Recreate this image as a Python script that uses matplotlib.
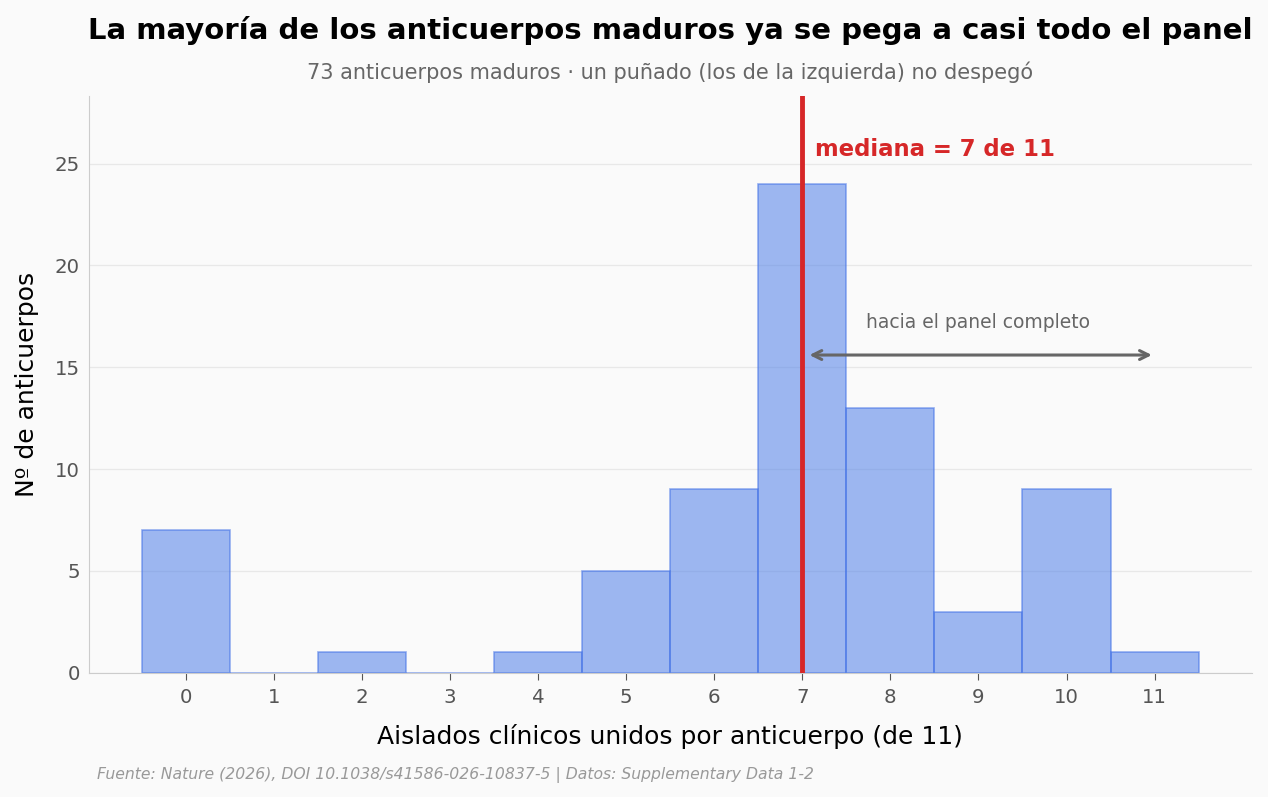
import matplotlib.pyplot as plt
import numpy as np

# isolates bound per antibody (0..11) and how many antibodies
aislados = np.arange(0, 12)
n_anticuerpos = [7, 0, 1, 0, 1, 5, 9, 24, 13, 3, 9, 1]
mediana = 7

bg = "#fafafa"
fig, ax = plt.subplots(figsize=(12.68, 7.97), dpi=100)
fig.patch.set_facecolor(bg)
ax.set_facecolor(bg)

ax.bar(aislados, n_anticuerpos, width=1.0, color="#4f7fe8", alpha=0.55,
       edgecolor="#3f6fe6", linewidth=1.2, zorder=2)

ax.axvline(mediana, color="#d62728", linewidth=3.5, zorder=3)
ax.text(mediana + 0.15, 25.7, f"mediana = {mediana} de 11", color="#d62728",
        fontsize=16.4, fontweight="bold", va="center", ha="left")

ax.annotate("", xy=(11, 15.6), xytext=(mediana + 0.05, 15.6),
            arrowprops=dict(arrowstyle="<->", color="#666666", lw=2.2,
                            mutation_scale=16))
ax.text(9.0, 17.2, "hacia el panel completo", color="#666666", fontsize=13.5,
        ha="center", va="center")

ax.set_xlim(-1.1, 12.1)
ax.set_ylim(0, 28.3)
ax.set_xticks(aislados)
ax.set_yticks([0, 5, 10, 15, 20, 25])
ax.tick_params(axis="both", labelsize=14.2, colors="#555555")
ax.tick_params(axis="y", length=0, pad=6.5)
ax.tick_params(axis="x", color="#555555", length=5, pad=6)
ax.grid(axis="y", color="#e8e8e8", linewidth=0.9, zorder=0)
ax.set_axisbelow(True)
for s in ["top", "right"]:
    ax.spines[s].set_visible(False)
for s in ["left", "bottom"]:
    ax.spines[s].set_color("#cccccc")

ax.set_xlabel("Aislados clínicos unidos por anticuerpo (de 11)", fontsize=18, labelpad=12)
ax.set_ylabel("Nº de anticuerpos", fontsize=18, labelpad=11)

ax.set_title("La mayoría de los anticuerpos maduros ya se pega a casi todo el panel",
             fontsize=21, fontweight="bold", pad=41)
ax.text(0.5, 1.042, "73 anticuerpos maduros · un puñado (los de la izquierda) no despegó",
        transform=ax.transAxes, ha="center", va="center", fontsize=15, color="#666666")

fig.text(0.0765, 0.028, "Fuente: Nature (2026), DOI 10.1038/s41586-026-10837-5 | Datos: Supplementary Data 1-2",
         fontsize=11.25, style="italic", color="#999999", ha="left", va="center")

fig.subplots_adjust(left=0.070, right=0.987, top=0.879, bottom=0.156)
fig.savefig("out.png", dpi=100, facecolor=bg)
